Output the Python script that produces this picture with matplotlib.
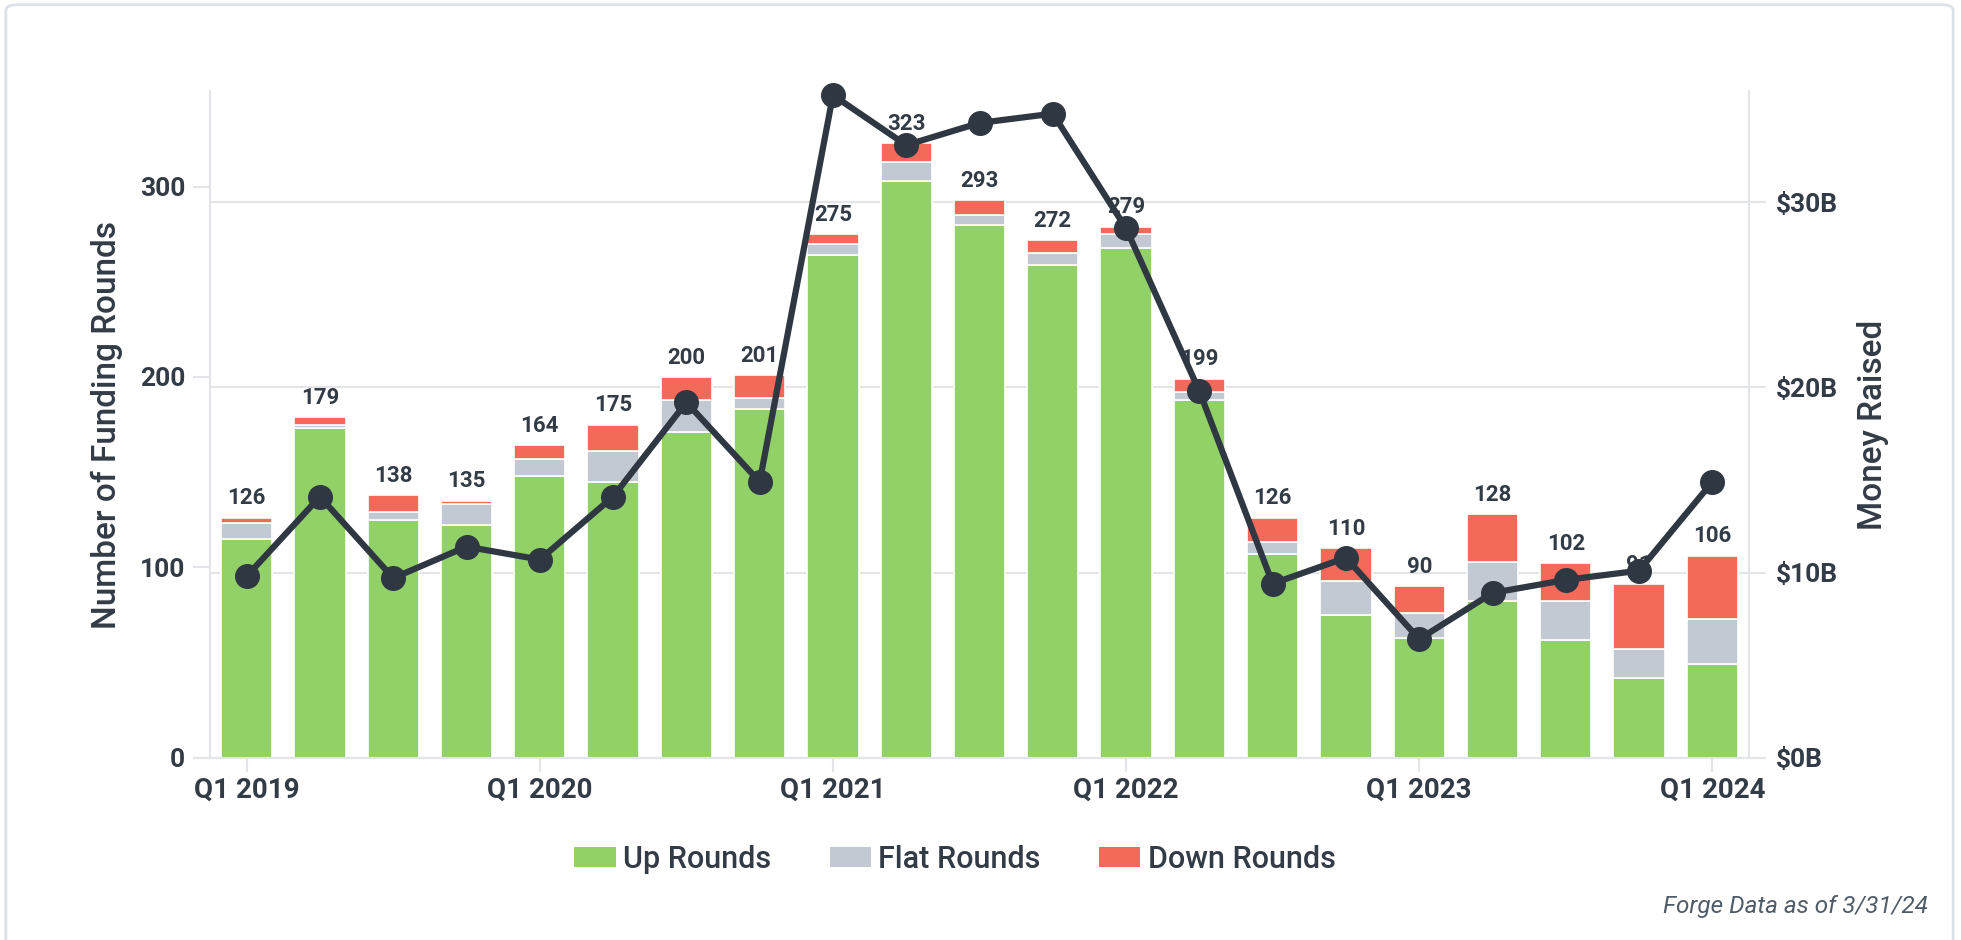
import numpy as np
import matplotlib
matplotlib.use("Agg")
import matplotlib.pyplot as plt
from matplotlib.patches import FancyBboxPatch, Patch

plt.rcParams['font.family'] = ['Roboto', 'DejaVu Sans']

# quarterly funding rounds by type, and money raised ($B)
quarters = ['Q1 2019', 'Q2 2019', 'Q3 2019', 'Q4 2019',
            'Q1 2020', 'Q2 2020', 'Q3 2020', 'Q4 2020',
            'Q1 2021', 'Q2 2021', 'Q3 2021', 'Q4 2021',
            'Q1 2022', 'Q2 2022', 'Q3 2022', 'Q4 2022',
            'Q1 2023', 'Q2 2023', 'Q3 2023', 'Q4 2023',
            'Q1 2024']
up_rounds = [115, 173, 125, 122, 148, 145, 171, 183, 264, 303, 280,
             259, 268, 188, 107, 75, 63, 82, 62, 42, 49]
flat_rounds = [8, 2, 4, 11, 9, 16, 17, 6, 6, 10, 5,
               6, 7, 4, 6, 18, 13, 21, 20, 15, 24]
down_rounds = [3, 4, 9, 2, 7, 14, 12, 12, 5, 10, 8,
               7, 4, 7, 13, 17, 14, 25, 20, 34, 33]
money_raised = [9.8, 14.1, 9.7, 11.4, 10.7, 14.1, 19.2, 14.9, 35.8, 33.1, 34.3,
                34.8, 28.6, 19.8, 9.4, 10.8, 6.4, 8.9, 9.6, 10.1, 14.9]

GREEN = '#92d168'
GRAY = '#c3c9d2'
RED = '#f3695a'
DARK = '#2f3842'
TEXT = '#333c46'
AXIS = '#e3e5e8'

x = np.arange(len(quarters))
up = np.array(up_rounds)
flat = np.array(flat_rounds)
down = np.array(down_rounds)
totals = up + flat + down
xlim = (-0.5, len(quarters) - 0.5)

fig = plt.figure(figsize=(19.61, 9.40), dpi=100)
rect = [0.1071, 0.1941, 0.7848, 0.7086]

# right axis: money, carries the gridlines (drawn behind the bars)
ax_m = fig.add_axes(rect)
ax_m.set_xlim(xlim)
ax_m.set_ylim(0, 36)
ax_m.set_yticks([0, 10, 20, 30])
ax_m.set_yticklabels(['$0B', '$10B', '$20B', '$30B'])
ax_m.yaxis.tick_right()
ax_m.yaxis.set_label_position('right')
ax_m.grid(axis='y', color=AXIS, linewidth=1.5)
ax_m.tick_params(axis='x', bottom=False, labelbottom=False)
for s in ['top', 'left', 'bottom']:
    ax_m.spines[s].set_visible(False)
ax_m.spines['right'].set_color(AXIS)
ax_m.spines['right'].set_linewidth(1.5)
ax_m.tick_params(axis='y', length=12, width=1.5, color=AXIS, pad=7,
                 labelsize=19, labelcolor=TEXT)
for t in ax_m.get_yticklabels():
    t.set_fontweight('bold')
ax_m.set_ylabel('Money Raised', fontsize=24, fontweight='medium', color=TEXT,
                labelpad=14, rotation=90)

# left axis: stacked bars
ax = fig.add_axes(rect)
ax.patch.set_visible(False)
w = 0.7
ax.bar(x, up, width=w, color=GREEN, edgecolor='white', linewidth=1.2, label='Up Rounds')
ax.bar(x, flat, width=w, bottom=up, color=GRAY, edgecolor='white', linewidth=1.2, label='Flat Rounds')
ax.bar(x, down, width=w, bottom=up + flat, color=RED, edgecolor='white', linewidth=1.2, label='Down Rounds')
for xi, t in zip(x, totals):
    ax.annotate(str(t), (xi, t), xytext=(0, 6), textcoords='offset points',
                ha='center', va='bottom', fontsize=16, fontweight='bold', color=TEXT)

ax.set_xlim(xlim)
ax.set_ylim(0, 350)
ax.set_yticks([0, 100, 200, 300])
ax.set_xticks(x[::4])
ax.set_xticklabels(quarters[::4])
for s in ['top', 'right']:
    ax.spines[s].set_visible(False)
for s in ['left', 'bottom']:
    ax.spines[s].set_color(AXIS)
    ax.spines[s].set_linewidth(1.5)
ax.tick_params(axis='y', length=12, width=1.5, color=AXIS, pad=6,
               labelsize=19, labelcolor=TEXT)
ax.tick_params(axis='x', length=10, width=1.5, color=AXIS, pad=4,
               labelsize=20, labelcolor=TEXT)
for t in ax.get_yticklabels() + ax.get_xticklabels():
    t.set_fontweight('bold')
ax.set_ylabel('Number of Funding Rounds', fontsize=24, fontweight='medium',
              color=TEXT, labelpad=12)

# line on top of everything
ax_l = ax.twinx()
ax_l.set_xlim(xlim)
ax_l.set_ylim(0, 36)
ax_l.plot(x, money_raised, color=DARK, linewidth=4.5, marker='o',
          markersize=17, solid_joinstyle='round', zorder=5, clip_on=False)
ax_l.axis('off')

handles = [Patch(facecolor=GREEN, label='Up Rounds'),
           Patch(facecolor=GRAY, label='Flat Rounds'),
           Patch(facecolor=RED, label='Down Rounds')]
leg = fig.legend(handles=handles, loc='center', bbox_to_anchor=(0.487, 0.086),
                 ncol=3, frameon=False, fontsize=22, handlelength=1.35,
                 handleheight=0.65, handletextpad=0.25, columnspacing=1.9)
for t in leg.get_texts():
    t.set_color(TEXT)
    t.set_fontweight('medium')

fig.text(0.983, 1 - 907 / 940, 'Forge Data as of 3/31/24', ha='right', va='center',
         fontsize=17.5, style='italic', color='#4f5b67')

border = FancyBboxPatch((0.003, -0.05), 0.993, 1.045, transform=fig.transFigure,
                        boxstyle='round,pad=0,rounding_size=0.006',
                        facecolor='none', edgecolor='#dbe2ea', linewidth=2,
                        figure=fig, zorder=-1)
fig.patches.append(border)

fig.savefig('out.png', dpi=100)
